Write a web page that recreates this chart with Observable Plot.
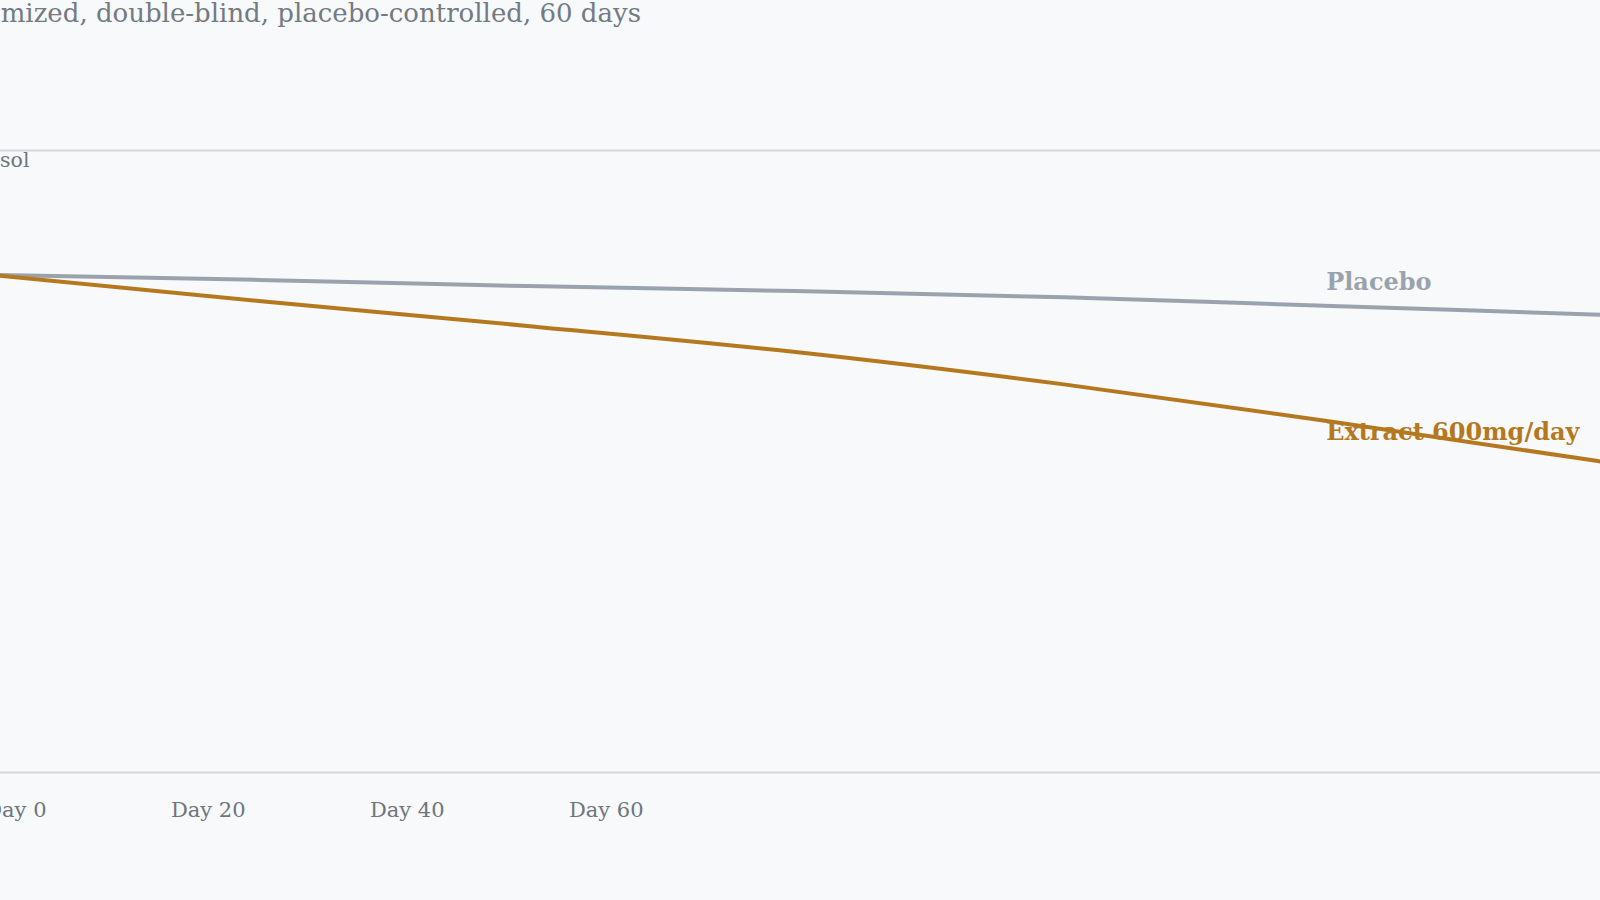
<!DOCTYPE html>
<html>
<head>
<meta charset="utf-8">
<script src="https://cdn.jsdelivr.net/npm/d3@7"></script>
<script src="https://cdn.jsdelivr.net/npm/@observablehq/plot@0.6"></script>
<style>
  html, body { margin: 0; padding: 0; background: #f7f9fa; overflow: hidden; }
  #page { position: relative; width: 1600px; height: 900px; overflow: hidden; background: #f7f9fa; }
  #subtitle { position: absolute; left: 641px; top: 0px; transform: translateX(-100%);
    white-space: nowrap; font-family: "DejaVu Serif", serif; font-size: 26px; line-height: 26px; color: #737a82; }
  #lines { position: absolute; left: -60px; top: 100px; width: 1710px; height: 722px; }
  #axis { position: absolute; left: -100px; top: 779px; width: 900px; height: 60px; }
  #lines svg, #axis svg { max-width: none !important; }
</style>
</head>
<body>
<div id="page">
  <div id="subtitle">Randomized, double-blind, placebo-controlled, 60 days</div>
  <div id="lines"></div>
  <div id="axis"></div>
</div>
<script>
const days = [0, 10, 20, 30, 40, 50, 60];
const placebo = [20.0, 19.8, 19.55, 19.35, 19.1, 18.75, 18.4];
const extract = [20.0, 18.95, 17.95, 16.9, 15.6, 14.1, 12.5];
const seriesNames = ["Placebo", "Extract 600mg/day"];
const seriesColors = ["#9aa3ad", "#b6781f"];
const tickDays = [0, 20, 40, 60];
const yDomain = [0, 25];
const yLabel = "Cortisol";
const labelDay = 50;

const rows = [];
days.forEach((d, i) => {
  rows.push({day: d, value: placebo[i], series: seriesNames[0]});
  rows.push({day: d, value: extract[i], series: seriesNames[1]});
});
const labelRows = rows.filter(r => r.day === labelDay);

const linesPlot = Plot.plot({
  width: 1710,
  height: 722,
  marginLeft: 50,
  marginRight: 50,
  marginTop: 50,
  marginBottom: 50,
  style: {background: "transparent", fontFamily: "DejaVu Serif, serif", overflow: "visible", maxWidth: "none"},
  x: {domain: [0, 60], axis: null},
  y: {domain: yDomain, axis: null},
  color: {domain: seriesNames, range: seriesColors},
  marks: [
    Plot.ruleY(yDomain, {stroke: "#d1d8dc", strokeWidth: 2}),
    Plot.text([yLabel], {text: d => d, frameAnchor: "top-left", textAnchor: "end", lineAnchor: "top",
      dx: 39, dy: 1.5, fontSize: 20.5, fill: "#70767d"}),
    Plot.text(labelRows.filter(r => r.series === seriesNames[0]), {x: "day", y: "value", text: "series",
      fill: seriesColors[0], textAnchor: "start", fontSize: 24, fontWeight: "bold", dx: -6, dy: -23.5}),
    Plot.text(labelRows.filter(r => r.series === seriesNames[1]), {x: "day", y: "value", text: "series",
      fill: seriesColors[1], textAnchor: "start", fontSize: 24, fontWeight: "bold", dx: -6, dy: 11}),
    Plot.line(rows, {x: "day", y: "value", z: "series", stroke: "series", strokeWidth: 4, curve: "monotone-x"})
  ]
});
document.getElementById("lines").appendChild(linesPlot);

const axisPlot = Plot.plot({
  width: 900,
  height: 60,
  marginTop: 20,
  marginBottom: 40,
  marginLeft: 0,
  marginRight: 0,
  style: {background: "transparent", fontFamily: "DejaVu Serif, serif", overflow: "visible", maxWidth: "none"},
  x: {domain: [0, 60], range: [146, 743], axis: null},
  marks: [
    Plot.axisX(tickDays, {anchor: "bottom", tickSize: 0, tickPadding: 3, textAnchor: "end",
      tickFormat: d => `Day ${d}`, fontSize: 21, fill: "#6f757c", label: null})
  ]
});
document.getElementById("axis").appendChild(axisPlot);
</script>
</body>
</html>
